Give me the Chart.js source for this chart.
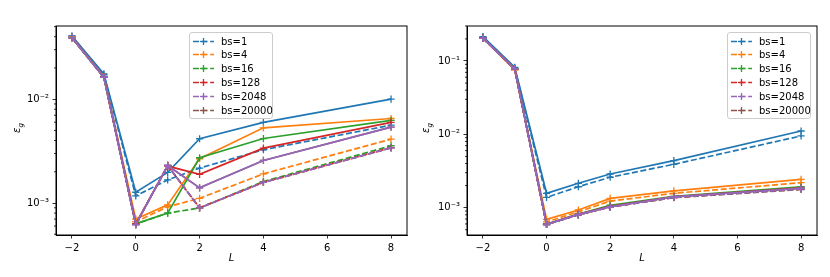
<!DOCTYPE html>
<html lang="en">
<head>
    <meta charset="UTF-8">
    <title>Generalisation error vs L</title>
    <script src="https://cdn.jsdelivr.net/npm/chart.js"></script>
    <style>
        body {
            margin: 0;
            background: #fff;
            font-family: 'DejaVu Sans', sans-serif;
        }
        .wrap {
            position: relative;
            width: 830px;
            height: 277px;
        }
        canvas {
            position: absolute;
            top: 0;
        }
        #leftChart { left: 0; }
        #rightChart { left: 415px; }
        .ylab {
            position: absolute;
            font-size: 10px;
            white-space: nowrap;
            transform: translate(-50%, -50%) rotate(-90deg);
        }
        .ylab sub { font-size: 7px; }
        .legend {
            position: absolute;
            top: 32px;
            width: 84px;
            height: 87px;
            border: 1px solid #ccc;
            border-radius: 3px;
            background: rgba(255, 255, 255, 0.8);
            box-sizing: border-box;
            font-size: 10px;
        }
        .legend .row {
            position: absolute;
            left: 3px;
            height: 12px;
            display: flex;
            align-items: center;
        }
        .legend svg { margin-right: 7px; }
    </style>
</head>
<body>
<div class="wrap">
    <canvas id="leftChart" width="415" height="277"></canvas>
    <canvas id="rightChart" width="415" height="277"></canvas>
    <div class="ylab" style="left:18px; top:128px;"><i>ε<sub>g</sub></i></div>
    <div class="ylab" style="left:427px; top:128px;"><i>ε<sub>g</sub></i></div>
    <div class="legend" id="leftLegend" style="left:189px;"></div>
    <div class="legend" id="rightLegend" style="left:727px;"></div>
</div>
<script>
    const L = [-2, -1, 0, 1, 2, 4, 8];
    const xTicks = [-2, 0, 2, 4, 6, 8];
    const batchSizes = ['bs=1', 'bs=4', 'bs=16', 'bs=128', 'bs=2048', 'bs=20000'];
    const colors = ['#1f77b4', '#ff7f0e', '#2ca02c', '#d62728', '#9467bd', '#8c564b'];

    // left panel, one row per batch size
    const leftSolid = [
        [0.0406, 0.0175, 1.27e-3, 1.97e-3, 4.16e-3, 5.97e-3, 1.00e-2],
        [0.0395, 0.0165, 7.0e-4, 9.6e-4, 2.67e-3, 5.3e-3, 6.52e-3],
        [0.0392, 0.0163, 6.3e-4, 8.0e-4, 2.73e-3, 4.18e-3, 6.24e-3],
        [0.0392, 0.0163, 6.3e-4, 2.27e-3, 1.89e-3, 3.38e-3, 5.97e-3],
        [0.0392, 0.0163, 6.2e-4, 2.30e-3, 1.40e-3, 2.57e-3, 5.38e-3],
        [0.0392, 0.0163, 6.2e-4, 2.30e-3, 1.40e-3, 2.57e-3, 5.38e-3]
    ];
    const leftDashed = [
        [0.0404, 0.0172, 1.17e-3, 1.67e-3, 2.17e-3, 3.26e-3, 5.62e-3],
        [0.0395, 0.0165, 6.6e-4, 9.2e-4, 1.11e-3, 1.91e-3, 4.12e-3],
        [0.0392, 0.0163, 6.3e-4, 8.0e-4, 8.96e-4, 1.61e-3, 3.56e-3],
        [0.0392, 0.0163, 6.3e-4, 2.29e-3, 9.0e-4, 1.58e-3, 3.42e-3],
        [0.0392, 0.0163, 6.2e-4, 2.30e-3, 8.96e-4, 1.58e-3, 3.40e-3],
        [0.0392, 0.0163, 6.2e-4, 2.30e-3, 8.96e-4, 1.58e-3, 3.40e-3]
    ];

    // right panel
    const rightSolid = [
        [0.215, 0.082, 1.57e-3, 2.15e-3, 2.88e-3, 4.37e-3, 1.11e-2],
        [0.205, 0.076, 6.93e-4, 9.3e-4, 1.34e-3, 1.69e-3, 2.43e-3],
        [0.205, 0.078, 6.0e-4, 8.2e-4, 1.08e-3, 1.43e-3, 1.93e-3],
        [0.205, 0.078, 5.95e-4, 8.1e-4, 1.04e-3, 1.41e-3, 1.86e-3],
        [0.205, 0.078, 5.93e-4, 8.1e-4, 1.03e-3, 1.41e-3, 1.84e-3],
        [0.205, 0.078, 5.93e-4, 8.1e-4, 1.03e-3, 1.40e-3, 1.83e-3]
    ];
    const rightDashed = [
        [0.212, 0.080, 1.38e-3, 1.93e-3, 2.60e-3, 3.90e-3, 9.5e-3],
        [0.205, 0.076, 6.4e-4, 8.8e-4, 1.23e-3, 1.57e-3, 2.19e-3],
        [0.205, 0.078, 5.9e-4, 8.0e-4, 1.03e-3, 1.38e-3, 1.82e-3],
        [0.205, 0.078, 5.9e-4, 8.0e-4, 1.02e-3, 1.38e-3, 1.80e-3],
        [0.205, 0.078, 5.9e-4, 8.0e-4, 1.02e-3, 1.38e-3, 1.80e-3],
        [0.205, 0.078, 5.9e-4, 8.0e-4, 1.02e-3, 1.37e-3, 1.77e-3]
    ];

    Chart.defaults.font.family = "'DejaVu Sans', sans-serif";
    Chart.defaults.font.size = 10;
    Chart.defaults.color = '#000';

    const supDigits = { '-': '\u207b', '0': '\u2070', '1': '\u00b9', '2': '\u00b2', '3': '\u00b3', '4': '\u2074' };

    function isDecade(v) {
        const l = Math.log10(v);
        return Math.abs(l - Math.round(l)) < 1e-6;
    }

    function logTicks(min, max) {
        const out = [];
        for (let e = Math.floor(Math.log10(min)); e <= Math.ceil(Math.log10(max)); e++) {
            for (let m = 1; m <= 9; m++) {
                const v = Number((m * Math.pow(10, e)).toPrecision(12));
                if (v >= min && v <= max) out.push(v);
            }
        }
        return out;
    }

    // full box around the axes plus short minor ticks on the log axis
    const framePlugin = {
        id: 'frame',
        afterDraw(chart) {
            const { ctx, chartArea: a } = chart;
            const y = chart.scales.y;
            ctx.save();
            ctx.strokeStyle = '#000';
            ctx.lineWidth = 1;
            ctx.strokeRect(a.left, a.top, a.right - a.left, a.bottom - a.top);
            ctx.lineWidth = 0.8;
            y.ticks.forEach(t => {
                if (isDecade(t.value)) return;
                const py = y.getPixelForValue(t.value);
                ctx.beginPath();
                ctx.moveTo(a.left - 2, py);
                ctx.lineTo(a.left, py);
                ctx.stroke();
            });
            ctx.restore();
        }
    };

    function makeChart(id, solid, dashed, yMin, yMax, axisW, padRight) {
        const datasets = [];
        const drawOrder = [0, 1, 2, 3, 5, 4]; // purple ends up on top of brown
        drawOrder.forEach((b, k) => {
            [solid, dashed].forEach((series, j) => {
                datasets.push({
                    label: batchSizes[b],
                    data: L.map((x, i) => ({ x: x, y: series[b][i] })),
                    borderColor: colors[b],
                    backgroundColor: colors[b],
                    borderWidth: 1.7,
                    borderDash: j ? [6, 2.6] : [],
                    pointStyle: 'cross',
                    pointRadius: 3.6,
                    pointBorderWidth: 1.3,
                    fill: false,
                    tension: 0,
                    order: -(k * 2 + j)
                });
            });
        });

        return new Chart(document.getElementById(id), {
            type: 'line',
            data: { datasets: datasets },
            plugins: [framePlugin],
            options: {
                responsive: false,
                animation: false,
                events: [],
                layout: { padding: { left: 0, top: 26, right: padRight, bottom: 0 } },
                plugins: { legend: { display: false }, tooltip: { enabled: false } },
                scales: {
                    x: {
                        type: 'linear',
                        min: -2.5,
                        max: 8.5,
                        afterBuildTicks: s => { s.ticks = xTicks.map(v => ({ value: v })); },
                        afterFit: s => { s.height = 42; },
                        ticks: {
                            callback: v => String(v).replace('-', '\u2212'),
                            padding: 3.5,
                            maxRotation: 0,
                            autoSkip: false
                        },
                        grid: { drawOnChartArea: false, tickLength: 3.5, color: '#000', lineWidth: 0.8 },
                        border: { display: true, color: '#000', width: 1 },
                        title: {
                            display: true,
                            text: 'L',
                            font: { style: 'italic', size: 10 },
                            padding: { top: 0, bottom: 13 }
                        }
                    },
                    y: {
                        type: 'logarithmic',
                        min: yMin,
                        max: yMax,
                        afterBuildTicks: s => { s.ticks = logTicks(yMin, yMax).map(v => ({ value: v })); },
                        afterFit: s => { s.width = axisW; },
                        ticks: {
                            autoSkip: false,
                            padding: 3.5,
                            callback: v => {
                                if (!isDecade(v)) return '';
                                const e = String(Math.round(Math.log10(v)));
                                return '10' + e.split('').map(c => supDigits[c]).join('');
                            }
                        },
                        grid: {
                            drawOnChartArea: false,
                            tickLength: 3.5,
                            lineWidth: 0.8,
                            tickColor: c => (c.tick && isDecade(c.tick.value)) ? '#000' : 'rgba(0,0,0,0)'
                        },
                        border: { display: true, color: '#000', width: 1 }
                    }
                }
            }
        });
    }

    function buildLegend(id) {
        const box = document.getElementById(id);
        batchSizes.forEach((name, i) => {
            const row = document.createElement('div');
            row.className = 'row';
            row.style.top = (8 + i * 13.85 - 6) + 'px';
            const c = colors[i];
            row.innerHTML =
                '<svg width="21" height="9">' +
                '<line x1="0" y1="4.5" x2="21" y2="4.5" stroke="' + c + '" stroke-width="1.7" stroke-dasharray="6 2.6"/>' +
                '<line x1="7" y1="4.5" x2="14" y2="4.5" stroke="' + c + '" stroke-width="1.3"/>' +
                '<line x1="10.5" y1="1" x2="10.5" y2="8" stroke="' + c + '" stroke-width="1.3"/>' +
                '</svg><span>' + name + '</span>';
            box.appendChild(row);
        });
    }

    makeChart('leftChart', leftSolid, leftDashed, 4.92e-4, 0.0507, 56, 8);
    makeChart('rightChart', rightSolid, rightDashed, 4.24e-4, 0.30, 52, 13);
    buildLegend('leftLegend');
    buildLegend('rightLegend');
</script>
</body>
</html>
